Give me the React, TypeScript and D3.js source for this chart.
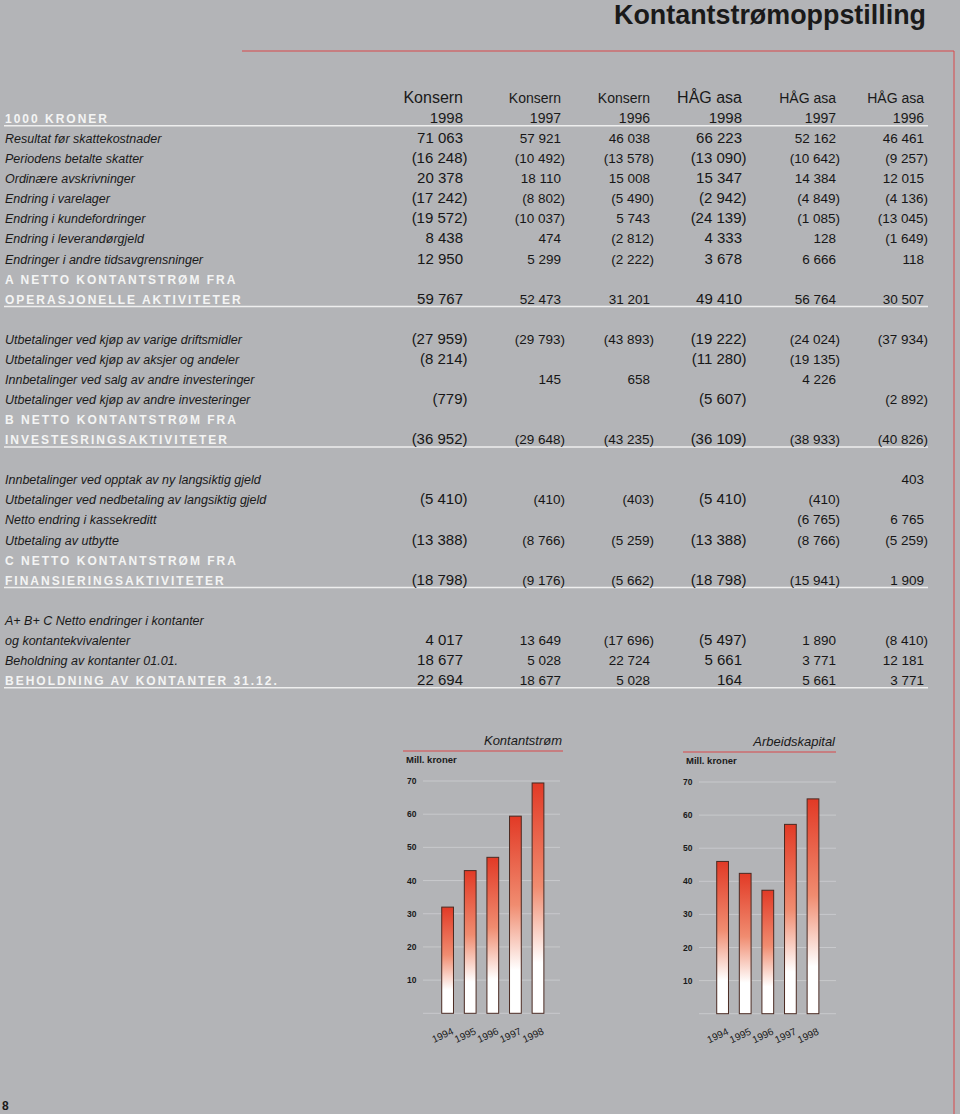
import React from "react";
import * as d3 from "d3";

const _ = null;

const pageTitle = "Kontantstrømoppstilling";
const columnEntities = ["Konsern", "Konsern", "Konsern", "HÅG asa", "HÅG asa", "HÅG asa"];
const columnYears = ["1998", "1997", "1996", "1998", "1997", "1996"];

const rowLabels = [
  "",
  "1000 KRONER",
  "Resultat før skattekostnader",
  "Periodens betalte skatter",
  "Ordinære avskrivninger",
  "Endring i varelager",
  "Endring i kundefordringer",
  "Endring i leverandørgjeld",
  "Endringer i andre tidsavgrensninger",
  "A NETTO KONTANTSTRØM FRA",
  "OPERASJONELLE AKTIVITETER",
  "",
  "Utbetalinger ved kjøp av varige driftsmidler",
  "Utbetalinger ved kjøp av aksjer og andeler",
  "Innbetalinger ved salg av andre investeringer",
  "Utbetalinger ved kjøp av andre investeringer",
  "B NETTO KONTANTSTRØM FRA",
  "INVESTESRINGSAKTIVITETER",
  "",
  "Innbetalinger ved opptak av ny langsiktig gjeld",
  "Utbetalinger ved nedbetaling av langsiktig gjeld",
  "Netto endring i kassekreditt",
  "Utbetaling av utbytte",
  "C NETTO KONTANTSTRØM FRA",
  "FINANSIERINGSAKTIVITETER",
  "",
  "A+ B+ C Netto endringer i kontanter",
  "og kontantekvivalenter",
  "Beholdning av kontanter 01.01.",
  "BEHOLDNING AV KONTANTER 31.12.",
];
const capsRows = [1, 9, 10, 16, 17, 23, 24, 29];
const ruleRows = [1, 10, 17, 24, 29];

const konsern1998 = [_, _, 71063, -16248, 20378, -17242, -19572, 8438, 12950, _, 59767, _, -27959, -8214, _, -779, _, -36952, _, _, -5410, _, -13388, _, -18798, _, _, 4017, 18677, 22694];
const konsern1997 = [_, _, 57921, -10492, 18110, -8802, -10037, 474, 5299, _, 52473, _, -29793, _, 145, _, _, -29648, _, _, -410, _, -8766, _, -9176, _, _, 13649, 5028, 18677];
const konsern1996 = [_, _, 46038, -13578, 15008, -5490, 5743, -2812, -2222, _, 31201, _, -43893, _, 658, _, _, -43235, _, _, -403, _, -5259, _, -5662, _, _, -17696, 22724, 5028];
const hag1998 = [_, _, 66223, -13090, 15347, -2942, -24139, 4333, 3678, _, 49410, _, -19222, -11280, _, -5607, _, -36109, _, _, -5410, _, -13388, _, -18798, _, _, -5497, 5661, 164];
const hag1997 = [_, _, 52162, -10642, 14384, -4849, -1085, 128, 6666, _, 56764, _, -24024, -19135, 4226, _, _, -38933, _, _, -410, -6765, -8766, _, -15941, _, _, 1890, 3771, 5661];
const hag1996 = [_, _, 46461, -9257, 12015, -4136, -13045, -1649, 118, _, 30507, _, -37934, _, _, -2892, _, -40826, _, 403, _, 6765, -5259, _, 1909, _, _, -8410, 12181, 3771];

const chartYears = ["1994", "1995", "1996", "1997", "1998"];
const kontantstrom = [32, 43, 47, 59.4, 69.4];
const arbeidskapital = [46, 42.4, 37.3, 57.2, 64.9];
const chartTicks = [10, 20, 30, 40, 50, 60, 70];

const FONT = "'Liberation Sans', Arial, Helvetica, sans-serif";
const BG = "#b3b4b7";
const RED = "#d9484a";

const fmt = (v: number) => {
  const s = d3.format(",")(Math.abs(v)).replace(/,/g, " ");
  return v < 0 ? `(${s})` : s;
};

function BarChart({ title, values, x0, x1, yBottom, yTop, gridX0, gridX1, tickX, titleRight, ruleX0, titleY, unitY }: any) {
  const x = d3.scaleBand<string>().domain(chartYears).range([x0, x1]).paddingInner(0.48).paddingOuter(0.24);
  const y = d3.scaleLinear().domain([0, 70]).range([yBottom, yTop]);
  return (
    <g>
      <text x={titleRight} y={titleY} textAnchor="end" fontStyle="italic" fontSize={13} fill="#1a1a1a">{title}</text>
      <line x1={ruleX0} x2={titleRight + 1} y1={titleY + 6} y2={titleY + 6} stroke={RED} strokeWidth={1} />
      <text x={ruleX0 + 3} y={unitY} fontSize={9.5} fontWeight="bold" fill="#1a1a1a">Mill. kroner</text>
      {[0, ...chartTicks].map((t) => (
        <line key={t} x1={gridX0} x2={gridX1} y1={y(t)} y2={y(t)} stroke="#c8c9cc" strokeWidth={1} />
      ))}
      {chartTicks.map((t) => (
        <text key={t} x={tickX} y={y(t) + 3} fontSize={8.5} fontWeight="bold" fill="#1a1a1a">{t}</text>
      ))}
      {values.map((v: number, i: number) => (
        <rect key={i} x={x(chartYears[i])} y={y(v)} width={x.bandwidth()} height={y(0) - y(v)}
          fill="url(#barGrad)" stroke="#4a2a22" strokeWidth={1} />
      ))}
      {chartYears.map((yr) => {
        const cx = (x(yr) as number) + x.bandwidth() / 2 - 3.5;
        const cy = yBottom + 25;
        return (
          <text key={yr} transform={`translate(${cx},${cy}) rotate(-25)`} textAnchor="middle" fontSize={10} fill="#1a1a1a">{yr}</text>
        );
      })}
    </g>
  );
}

export default function App() {
  const rowY = d3.scaleLinear().domain([0, 29]).range([103, 685]);
  const colX = d3.scaleOrdinal<number, number>().domain([0, 1, 2, 3, 4, 5]).range([463, 561, 650, 742, 836, 924]);
  const columns = [konsern1998, konsern1997, konsern1996, hag1998, hag1997, hag1996];
  const isBig = (c: number) => c === 0 || c === 3;

  return (
    <svg width={960} height={1114} style={{ position: "absolute", left: 0, top: 0, display: "block" }} fontFamily={FONT}>
      <defs>
        <linearGradient id="barGrad" x1="0" y1="0" x2="0" y2="1">
          <stop offset="0%" stopColor="#e23a26" />
          <stop offset="45%" stopColor="#f08c70" />
          <stop offset="78%" stopColor="#ffffff" />
          <stop offset="100%" stopColor="#ffffff" />
        </linearGradient>
      </defs>
      <rect x={0} y={0} width={960} height={1114} fill={BG} />

      <text x={926} y={24} textAnchor="end" fontSize={27} fontWeight="bold" fill="#1a1a1a" textLength={312} lengthAdjust="spacingAndGlyphs">{pageTitle}</text>
      <polyline points="242,51 954,51 954,1114" fill="none" stroke={RED} strokeWidth={1} />

      {columnEntities.map((e, c) => (
        <text key={"h" + c} x={colX(c)} y={rowY(0)} textAnchor="end" fontSize={isBig(c) ? 16 : 14} fill="#1a1a1a">{e}</text>
      ))}
      {columnYears.map((yr, c) => (
        <text key={"y" + c} x={colX(c)} y={rowY(1)} textAnchor="end" fontSize={isBig(c) ? 15 : 14} fill="#1a1a1a">{yr}</text>
      ))}

      {rowLabels.map((lab, i) => {
        if (!lab) return null;
        const caps = capsRows.includes(i);
        return caps ? (
          <text key={"l" + i} x={5} y={rowY(i)} fontSize={12} fontWeight="bold" letterSpacing={2} fill="#f4f4f4">{lab}</text>
        ) : (
          <text key={"l" + i} x={5} y={rowY(i)} fontSize={12.5} fontStyle="italic" fill="#1a1a1a">{lab}</text>
        );
      })}

      {ruleRows.map((i) => (
        <line key={"r" + i} x1={4} x2={928} y1={rowY(i) + 2.8} y2={rowY(i) + 2.8} stroke="#eeeeee" strokeWidth={1.5} />
      ))}

      {columns.map((col, c) =>
        col.map((v, i) => {
          if (v === null) return null;
          const fs = isBig(c) ? 15 : 13.5;
          const xr = colX(c) + (v < 0 ? fs * 0.3 : 0);
          return (
            <text key={c + "-" + i} x={xr} y={rowY(i)} textAnchor="end" fontSize={fs} fill="#161616">{fmt(v)}</text>
          );
        })
      )}

      <BarChart title="Kontantstrøm" values={kontantstrom} x0={436.3} x1={549.3} yBottom={1013.3} yTop={781}
        gridX0={423} gridX1={560} tickX={407} titleRight={562} ruleX0={403} titleY={745} unitY={763} />
      <BarChart title="Arbeidskapital" values={arbeidskapital} x0={711.3} x1={824.3} yBottom={1013.7} yTop={782}
        gridX0={699} gridX1={836} tickX={683} titleRight={835} ruleX0={683} titleY={746} unitY={764} />

      <text x={2} y={1110} fontSize={12} fontWeight="bold" fill="#1a1a1a">8</text>
    </svg>
  );
}
